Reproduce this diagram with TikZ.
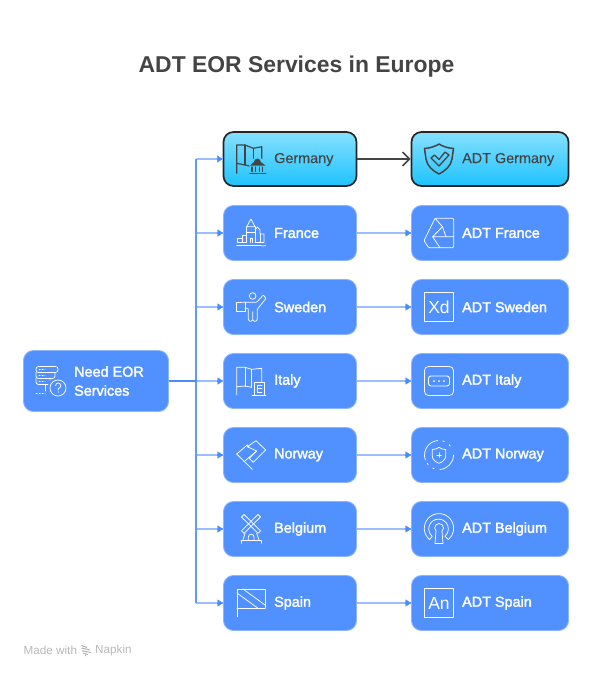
\documentclass[tikz,border=0pt]{standalone}
\usepackage{fontspec}
\setmainfont{Liberation Sans}
\newfontfamily\softfont[FakeBold=0.12]{Liberation Sans}
\usetikzlibrary{arrows.meta}
\definecolor{boxblue}{HTML}{5090FF}
\definecolor{boxedge}{HTML}{8CB4FF}
\definecolor{trunkblue}{HTML}{5F98FF}
\definecolor{branchblue}{HTML}{9CBEFF}
\definecolor{headblue}{HTML}{4A8CFA}
\definecolor{inkdark}{HTML}{444444}
\definecolor{darkedge}{HTML}{262626}
\definecolor{cyantop}{HTML}{86E0FF}
\definecolor{cyanbot}{HTML}{1EC3FF}
\tikzset{
 x=1pt,y=-1pt,
 bluebox/.style={draw=boxedge,line width=.9pt,fill=boxblue,rounded corners=10pt,inner sep=0pt,minimum height=55pt},
 hibox/.style={draw=darkedge,line width=1.7pt,top color=cyantop,bottom color=cyanbot,rounded corners=10pt,inner sep=0pt,minimum height=54pt},
 leftw/.style={minimum width=133pt},
 rightw/.style={minimum width=157pt},
 lbl/.style={anchor=west,inner sep=0pt,text=white,font=\fontsize{14.4}{19}\selectfont,align=left,
   execute at begin node={\special{pdf:code q 2 Tr 0.3 w 1 1 1 RG}},
   execute at end node={\special{pdf:code Q}}},
 lbldark/.style={anchor=west,inner sep=0pt,text=inkdark,font=\softfont\fontsize{14.4}{19}\selectfont},
 trunk/.style={draw=trunkblue,line width=2pt},
 feed/.style={draw=headblue,line width=2pt},
 branch/.style={draw=branchblue,line width=2pt},
 tiponly/.style={draw=headblue,line width=.2pt,-{Triangle[length=5.5pt,width=7pt,fill=headblue]}},
 hot/.style={draw=inkdark,line width=2pt,-{Straight Barb[length=7pt,width=14pt,line width=1.6pt]}},
 icw/.style={draw=white,line width=.75pt,line join=round,line cap=round,fill=none},
 icd/.style={draw=inkdark,line width=1.15pt,line join=round,line cap=round,fill=none},
}
\begin{document}
\begin{tikzpicture}
\useasboundingbox (0,0) rectangle (592,678);
\node[inner sep=0pt,text=inkdark,font=\bfseries\fontsize{22.9}{28}\selectfont] (title) at (296.5,66.5) {ADT EOR Services in Europe};

% boxes
\node[bluebox,minimum width=145pt,minimum height=61pt] (src) at (96,381) {};
\node[hibox,leftw] (a1) at (290,159) {};
\node[bluebox,leftw] (a2) at (290,233) {};
\node[bluebox,leftw] (a3) at (290,307) {};
\node[bluebox,leftw] (a4) at (290,381) {};
\node[bluebox,leftw] (a5) at (290,455) {};
\node[bluebox,leftw] (a6) at (290,529) {};
\node[bluebox,leftw] (a7) at (290,603) {};
\node[hibox,rightw] (b1) at (490,159) {};
\node[bluebox,rightw] (b2) at (490,233) {};
\node[bluebox,rightw] (b3) at (490,307) {};
\node[bluebox,rightw] (b4) at (490,381) {};
\node[bluebox,rightw] (b5) at (490,455) {};
\node[bluebox,rightw] (b6) at (490,529) {};
\node[bluebox,rightw] (b7) at (490,603) {};

% connectors
\coordinate (jt) at (196,159);
\coordinate (jb) at (196,603);
\coordinate (jm) at (196,381);
\foreach \n in {a1,a2,a3,a4,a5,a6,a7}{
 \draw[branch] (jt |- \n.west) -- (\n.west);
 \draw[tiponly] ([xshift=-6pt]\n.west) -- (\n.west);
}
\draw[trunk] (jt) -- (jb);
\draw[feed] (src.east) -- (jm);
\draw[hot] (a1.east) -- (b1.west);
\foreach \i in {2,...,7}{
 \draw[branch] (a\i.east) -- (b\i.west);
 \draw[tiponly] ([xshift=-6pt]b\i.west) -- (b\i.west);
}

% labels
\node[lbl] (tsrc) at (74,381) {Need EOR\\Services};
\node[lbldark] (ta1) at (274,159.5) {Germany};
\node[lbl] (ta2) at (274,233) {France};
\node[lbl] (ta3) at (274,307) {Sweden};
\node[lbl] (ta4) at (274,381) {Italy};
\node[lbl] (ta5) at (274,455) {Norway};
\node[lbl] (ta6) at (274,529) {Belgium};
\node[lbl] (ta7) at (274,603) {Spain};
\node[lbldark] (tb1) at (462,159.5) {ADT Germany};
\node[lbl] (tb2) at (462,233) {ADT France};
\node[lbl] (tb3) at (462,307) {ADT Sweden};
\node[lbl] (tb4) at (462,381) {ADT Italy};
\node[lbl] (tb5) at (462,455) {ADT Norway};
\node[lbl] (tb6) at (462,529) {ADT Belgium};
\node[lbl] (tb7) at (462,603) {ADT Spain};

% source icon: server stack with question mark
\begin{scope}[shift={(51,381)},icw]
 \draw[rounded corners=2.5pt] (-15,-14.5) rectangle (7,-8.5);
 \draw[rounded corners=2.5pt] (4,-8.5) -- (4,-2.5) -- (-15,-2.5) -- (-15,-8.5);
 \draw[rounded corners=2.5pt] (-1,-2.5) -- (-1,-1) (-3,3.5) -- (-15,3.5) -- (-15,-2.5);
 \draw[rounded corners=2pt] (-6,3.5) -- (-6,10);
 \draw[dash pattern=on 1.2pt off 1.8pt] (-15,12) -- (-6,12);
 \draw[dash pattern=on 1.2pt off 1.8pt] (-12,-11.5) -- (-6,-11.5) (-12,-5.5) -- (-6,-5.5) (-12,.5) -- (-6,.5);
 \draw (7,7) circle[radius=8];
 \draw (4.6,4.6) arc[start angle=180,end angle=390,radius=2.6] -- (7.2,8) -- (7.2,9);
 \fill[white] (7.2,11) circle[radius=.6];
\end{scope}

% Germany: flag with building
\begin{scope}[shift={(251,159)},icd]
 \draw (-14.3,14.3) -- (-14.3,-14) -- (-6,-14) -- (2.3,-10.7) -- (10.7,-12.3) -- (10.7,-.7);
 \draw (-6,-14) -- (-6,6);
 \draw (2.3,-10.7) -- (2.3,-.7);
 \draw (-14.3,4.3) -- (-6,6) -- (-2,7);
 \fill[inkdark] (-1,6.7) -- (3,3) arc[start angle=180,end angle=360,radius=3.4] -- (14.7,6.7) -- cycle;
 \draw (1,8) -- (1,12.5) (4.5,8) -- (4.5,12.5) (8.2,8) -- (8.2,12.5) (11.8,8) -- (11.8,12.5);
 \draw[line width=1.5pt] (-1,14.3) -- (14.7,14.3);
\end{scope}

% ADT Germany: shield with check
\begin{scope}[shift={(439,159)},icd]
 \draw[line width=1.5pt] (-14.5,-10.5) .. controls (-8,-11) and (-3,-13) .. (0,-15) .. controls (3,-13) and (8,-11) .. (14.5,-10.5) -- (13,0) .. controls (12,7) and (6,12) .. (0,15) .. controls (-6,12) and (-12,7) .. (-13,0) -- cycle;
 \draw[line width=1.3pt] (-8,-1) -- (-4.5,-4) -- (0,.5) -- (6,-7) -- (10,-4) -- (0,7) -- cycle;
\end{scope}

% France: castle on water
\begin{scope}[shift={(251,233)},icw]
 \draw (-4.3,-6.3) -- (0,-14) -- (4,-6.3) -- cycle;
 \draw (-4.3,9.5) -- (-4.3,-6.3) (4,9.5) -- (4,-6.3);
 \draw (-4.3,-1) -- (4,-1);
 \draw (-1,9.5) -- (-1,5) -- (1,5) -- (1,9.5);
 \draw (4,-3) -- (6.5,-6) -- (9,-3) -- (9,1) -- (13,1) -- (13,9.5) -- (4,9.5);
 \draw (9,1) -- (9,9.5);
 \draw (-4.3,2) -- (-9,2) -- (-9,5) -- (-14,5) -- (-14,9.5) -- (-4.3,9.5);
 \draw (-9,5) -- (-9,9.5);
 \draw (-14.3,12.6) .. controls (-12,11) and (-11,14.2) .. (-8,12.6) .. controls (-5,11) and (-4,14.2) .. (-1,12.6) .. controls (2,11) and (3,14.2) .. (6,12.6) .. controls (9,11) and (11,14.2) .. (14.7,12.6);
\end{scope}

% ADT France
\begin{scope}[shift={(439,233)},icw]
 \draw[rounded corners=1pt] (-4,-14.7) -- (14.7,-14.7) -- (14.7,14.7) -- (-10.3,14.7) -- (-15,7.7) -- cycle;
 \draw (14.7,3.7) -- (-6.4,3.7) -- (3.5,-6.3) -- (-4,-14.7);
 \draw (-6.4,3.7) -- (1,14.7);
 \draw (3.5,-6.3) -- (7,3.7);
\end{scope}

% Sweden: figure with flag
\begin{scope}[shift={(251,307)},icw]
 \draw (1.7,-11) circle[radius=3.3];
 \draw[rounded corners=.8pt] (-10.3,-4.7) -- (5.7,-4.7) -- (12.3,-12) -- (15,-8.7) -- (6.3,2.3) -- (6.3,13) -- (4,14.7) -- (1.7,13) -- (1.7,4.7);
 \draw[rounded corners=.8pt] (1.7,13) -- (-.5,14.7) -- (-2.7,13) -- (-2.7,1.3) -- (-6,1.3);
 \draw (-10.3,-4.7) -- (-15,-4.7) -- (-15,4) -- (-6,4) -- (-6,-4.7);
\end{scope}

% ADT Sweden: Xd
\begin{scope}[shift={(439,307)}]
 \draw[icw] (-14.5,-14.5) rectangle (14.5,14.5);
 \node[inner sep=0pt,text=white,font=\fontsize{17.5}{18}\selectfont] (xd) at (0,0.5) {Xd};
\end{scope}

% Italy: flag with tower
\begin{scope}[shift={(251,381)},icw]
 \draw (-14.3,14) -- (-14.3,-13.7) -- (-6,-13.7) -- (.7,-11.7) -- (10.7,-12.7) -- (10.7,.7);
 \draw (-6,-13.7) -- (-6,5.7) (.7,-11.7) -- (.7,6.3);
 \draw (-14.3,5.7) -- (-6,5) -- (.7,6.3);
 \draw (3,14.3) -- (3,1.3) -- (13.3,1.3) -- (13.3,14.3);
 \draw (1,14.3) -- (15,14.3);
 \draw (6.5,11) -- (6.5,4.5) -- (11,4.5) (6.5,7.7) -- (11,7.7) (6.5,11) -- (11,11);
\end{scope}

% ADT Italy: message dots
\begin{scope}[shift={(439,381)},icw]
 \draw[rounded corners=4pt] (-14.5,-14.5) rectangle (14.5,14.5);
 \draw[rounded corners=2.5pt,line width=.9pt] (-10.5,-5) rectangle (10.5,5);
 \fill[white] (-5,0) circle[radius=1] (0,0) circle[radius=1] (5,0) circle[radius=1];
\end{scope}

% Norway: folded diagonal flag
\begin{scope}[shift={(251,455)},icw]
 \draw (-14.3,-1) -- (1.3,14.3);
 \draw (-14.3,-1) -- (-3.7,-10);
 \draw (-3.7,-8.3) -- (5,-14.3) -- (14.7,-5) -- (2.3,7.3) -- (-1.7,3.3) -- (5.7,-4) -- cycle;
 \draw (-7,6.7) -- (5.7,-4);
 \draw (-3.7,-10) -- (-2,-8.5);
\end{scope}

% ADT Norway: shield in dashed circle
\begin{scope}[shift={(439,455)},icw]
 \draw (-6.7,-5.5) .. controls (-3.5,-5.5) and (-1.5,-6.5) .. (0,-7.7) .. controls (1.5,-6.5) and (3.5,-5.5) .. (6.7,-5.5) -- (6.7,1) .. controls (6.7,4.5) and (3.5,7) .. (0,8.3) .. controls (-3.5,7) and (-6.7,4.5) .. (-6.7,1) -- cycle;
 \draw (-2.3,0) -- (2.3,0) (0,-2.3) -- (0,2.3);
 \draw (160:14.5) arc[start angle=160,end angle=265,radius=14.5];
 \draw (0:14.5) arc[start angle=0,end angle=86,radius=14.5];
 \draw (145:14.5) arc[start angle=145,end angle=137,radius=14.5];
 \draw (116:14.5) arc[start angle=116,end angle=110,radius=14.5];
 \draw (285:14.5) arc[start angle=285,end angle=291,radius=14.5];
 \draw (315:14.5) arc[start angle=315,end angle=322,radius=14.5];
\end{scope}

% Belgium: windmill
\begin{scope}[shift={(251,529)},icw]
 \draw (-9.5,-12) -- (-7,-14.5) -- (9.5,1.8) -- (7,4.3) -- cycle;
 \draw (7,-14.5) -- (9.5,-12) -- (-7,4.3) -- (-9.5,1.8) -- cycle;
 \draw (-6,4.5) -- (-8.3,11.7) (5.7,4.5) -- (8.3,11.7);
 \draw (-2.7,11.7) -- (-2.7,8) arc[start angle=180,end angle=360,radius=2.85] -- (3,11.7);
 \draw (-10,11.7) -- (10,11.7) (-10,11.7) -- (-10,14.3) (10,11.7) -- (10,14.3);
\end{scope}

% ADT Belgium: keyhole with arcs
\begin{scope}[shift={(439,529)},icw]
 \draw (130:14.7) ++(0,-.7) arc[start angle=130,end angle=410,radius=14.7] -- ++(-3.6,-3.2) arc[start angle=410,end angle=130,radius=9.8] -- cycle;
 \draw (-3,2) arc[start angle=135,end angle=405,radius=4.4];
 \draw (-3,2) -- (-4,14.5) -- (4,14.5) -- (3,2);
\end{scope}

% Spain: flag
\begin{scope}[shift={(251,603)},icw]
 \draw (-14,13.7) -- (-14,-14) -- (14,-14) -- (14,5.3);
 \draw (-14,5.3) -- (14,5.3);
 \draw (-14,-10) -- (7,5.3);
 \draw (-8,-14) -- (14,2);
\end{scope}

% ADT Spain: An
\begin{scope}[shift={(439,603)}]
 \draw[icw] (-14.5,-14.5) rectangle (14.5,14.5);
 \node[inner sep=0pt,text=white,font=\fontsize{17.5}{18}\selectfont] (an) at (0,0.5) {An};
\end{scope}

% footer
\node[anchor=west,inner sep=0pt,text=black!28,font=\fontsize{11.7}{13}\selectfont] (made) at (23.5,650.5) {Made with};
\begin{scope}[shift={(86,650.5)},draw=black!30,line width=1pt]
 \draw (-4.5,-5) -- (1,-3) (-4.5,-2.5) -- (4,-.5) (-4,.3) -- (5,2) (-3,2.5) -- (2,4) (-1,4.5) -- (0,5.5);
\end{scope}
\node[anchor=west,inner sep=0pt,text=black!28,font=\fontsize{11.7}{13}\selectfont] (napkin) at (95,650.5) {Napkin};
\end{tikzpicture}
\end{document}
